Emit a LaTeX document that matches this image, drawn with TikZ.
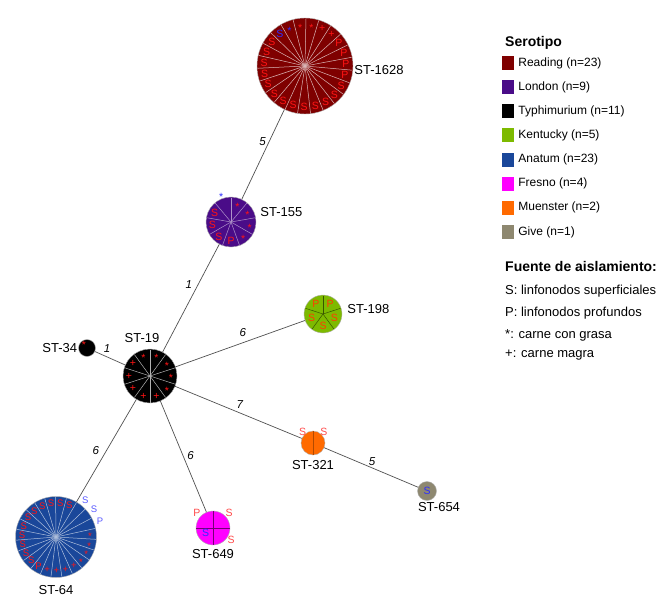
\documentclass[tikz,border=0pt]{standalone}
\usepackage{fontspec}
\setmainfont{Liberation Sans}
\usepackage{tikz}
\usetikzlibrary{positioning}

\definecolor{reading}{HTML}{7F0000}
\definecolor{london}{HTML}{4A0C88}
\definecolor{typhi}{HTML}{000000}
\definecolor{kentucky}{HTML}{7DBA00}
\definecolor{anatum}{HTML}{1A479A}
\definecolor{fresno}{HTML}{FF00FF}
\definecolor{muenster}{HTML}{FF6A00}
\definecolor{give}{HTML}{8E8870}
\definecolor{lblred}{HTML}{FF1414}
\definecolor{lblorange}{HTML}{FF3C00}
\definecolor{lblpink}{HTML}{FF4A4A}
\definecolor{lblblue}{HTML}{2E2EFF}
\definecolor{lblblueb}{HTML}{5A5AFF}
\definecolor{linkgray}{HTML}{505050}

\newcommand{\sx}{\smash{\raisebox{-.22em}{*}}\vphantom{S}}
\newcommand{\pielabels}[5]{% node, first angle, step, radius, text/colour list
  \foreach \t/\c [count=\k from 0] in {#5}
    \node[mk, text=\c] at ([shift={({#2+(#3)*\k}:#4)}]#1.center) {\t};}

\begin{document}
\begin{tikzpicture}[x=1pt, y=1pt,
    st/.style={circle, draw=black!30, line width=0.4pt, inner sep=0pt, minimum size=#1},
    stlabel/.style={inner sep=0pt, font=\fontsize{13}{13}\selectfont},
    elab/.style={inner sep=1pt, font=\fontsize{11.5}{12}\selectfont\itshape},
    link/.style={draw=linkgray, line width=0.7pt},
    sep/.style={draw=#1, line width=0.5pt},
    mk/.style={inner sep=0pt, font=\fontsize{10.5}{10.5}\selectfont},
    swatch/.style={minimum width=12pt, minimum height=14pt, inner sep=0pt},
    legtext/.style={inner sep=0pt, font=\fontsize{12}{12}\selectfont, text height=8.6pt, text depth=2.5pt},
    legtitle/.style={inner sep=0pt, anchor=base west, font=\fontsize{14}{14}\selectfont\bfseries},
    srctext/.style={inner sep=0pt, anchor=base west, font=\fontsize{13}{13}\selectfont}]
  \useasboundingbox (0,0) rectangle (671,-599);

  % sequence types
  \node[st=96pt, fill=reading] (c1628) at (305,-66) {};
  \node[st=50pt, fill=london] (c155) at (231,-222) {};
  \node[st=54pt, fill=typhi] (c19) at (150,-376) {};
  \node[st=17pt, fill=typhi] (c34) at (87,-348) {};
  \node[st=38pt, fill=kentucky] (c198) at (323,-314) {};
  \node[st=24pt, fill=muenster] (c321) at (313,-443) {};
  \node[st=19pt, fill=give] (c654) at (427,-491) {};
  \node[st=81pt, fill=anatum] (c64) at (56,-537) {};
  \node[st=34pt, fill=fresno] (c649) at (213,-528) {};

  \node[stlabel, right=1pt of c1628, yshift=-4pt] (l1628) {ST-1628};
  \node[stlabel, right=4pt of c155, yshift=10pt] (l155) {ST-155};
  \node[stlabel, above=6pt of c19, xshift=-8pt] (l19) {ST-19};
  \node[stlabel, left=1pt of c34] (l34) {ST-34};
  \node[stlabel, right=5pt of c198, yshift=5pt] (l198) {ST-198};
  \node[stlabel, below=5pt of c321] (l321) {ST-321};
  \node[stlabel, below=2pt of c654, xshift=12pt] (l654) {ST-654};
  \node[stlabel, below=8pt of c64] (l64) {ST-64};
  \node[stlabel, below=4pt of c649] (l649) {ST-649};

  % links with allelic distances
  \path[link] (c1628) edge node[elab, pos=.36, left=2pt] {5} (c155);
  \path[link] (c155) edge node[elab, pos=.37, left=5pt] {1} (c19);
  \path[link] (c19) edge node[elab, pos=.6, above=3pt] {1} (c34);
  \path[link] (c19) edge node[elab, pos=.52, above=5pt] {6} (c198);
  \path[link] (c19) edge node[elab, pos=.51, above=3pt] {7} (c321);
  \path[link] (c321) edge node[elab, pos=.51, above=1pt] {5} (c654);
  \path[link] (c19) edge node[elab, pos=.5, left=6pt] {6} (c64);
  \path[link] (c19) edge node[elab, pos=.49, right=3pt] {6} (c649);

  % slices
  \foreach \k in {0,...,22}
    \draw[sep=white!72!reading] (c1628.center) -- ++({135.8-15.652*\k}:47.5);
  \foreach \k in {0,...,8}
    \draw[sep=white!55!london] (c155.center) -- ++({10+40*\k}:24.5);
  \foreach \k in {0,...,9}
    \draw[sep=black!30] (c19.center) -- ++({90-36*\k}:26.5);
  \foreach \k in {0,...,4}
    \draw[sep=black!55!kentucky] (c198.center) -- ++({90-72*\k}:18.5);
  \draw[sep=black!30!muenster, line width=0.8pt] (c321.north) -- (c321.south);
  \draw[sep=black!55!fresno] (c649.north) -- (c649.south);
  \draw[sep=black!55!fresno] (c649.west) -- (c649.east);
  \foreach \k in {0,...,22}
    \draw[sep=white!65!anatum] (c64.center) -- ++({59.3+15.652*\k}:40);

  % isolation source marks
  \pielabels{c1628}{128}{-15.652}{41}{S/lblblue, \sx/lblblue, \sx/lblred, \sx/lblred, +/lblred, +/lblred,
    P/lblred, P/lblred, P/lblred, P/lblred, S/lblred, S/lblred, S/lblred, S/lblred, S/lblred, S/lblred,
    S/lblred, S/lblred, S/lblred, S/lblred, S/lblred, S/lblred, S/lblred}
  \pielabels{c155}{150}{40}{19}{S/lblred, S/lblred, S/lblred, P/lblred, \sx/lblred, \sx/lblred, \sx/lblred, \sx/lblred}
  \node[mk, text=lblblue] at ([shift={(110:29)}]c155.center) {\sx};
  \pielabels{c19}{108}{-36}{21}{\sx/lblred, \sx/lblred, \sx/lblred, \sx/lblred, \sx/lblred,
    +/lblred, +/lblred, +/lblred, +/lblred, +/lblred}
  \node[mk, text=lblred] at ([shift={(-3,5)}]c34.center) {\sx};
  \pielabels{c198}{126}{-72}{12}{P/lblorange, P/lblorange, S/lblorange, S/lblorange, S/lblorange}
  \pielabels{c321}{132}{-87}{15.5}{S/lblpink, S/lblpink}
  \node[mk, text=lblblue] at (c654.center) {S};
  \pielabels{c649}{137}{-94}{22}{P/lblpink, S/lblpink}
  \node[mk, text=lblpink] at ([shift={(-34:22)}]c649.center) {S};
  \node[mk, text=lblblue] at ([shift={(-145:9)}]c649.center) {S};
  \begin{scope}[mk/.append style={font=\fontsize{9.5}{9.5}\selectfont}]
    \pielabels{c64}{67}{15.652}{34}{S/lblred, S/lblred, S/lblred, S/lblred, S/lblred, S/lblred, S/lblred,
      S/lblred, S/lblred, S/lblred, S/lblred, P/lblred, +/lblred, +/lblred, +/lblred, +/lblred,
      \sx/lblred, \sx/lblred, \sx/lblred, \sx/lblred}
    \pielabels{c64}{51.5}{-15.652}{47}{S/lblblueb, S/lblblueb, P/lblblueb}
  \end{scope}

  % legend
  \node[legtitle] (sero) at (505,-46.5) {Serotipo};
  \foreach \col/\txt [count=\k from 0] in {reading/Reading (n=23), london/London (n=9),
      typhi/Typhimurium (n=11), kentucky/Kentucky (n=5), anatum/Anatum (n=23),
      fresno/Fresno (n=4), muenster/Muenster (n=2), give/Give (n=1)}
  {
    \node[swatch, fill=\col] (sw\k) at (508,{-63-24.14*\k}) {};
    \node[legtext, right=4pt of sw\k] (lt\k) {\txt};
  }
  \node[legtitle] (fuente) at (505,-271.7) {Fuente de aislamiento:};
  \node[srctext] (src1) at (505,-294) {S: linfonodos superficiales};
  \node[srctext] (src2) at (505,-316) {P: linfonodos profundos};
  \node[srctext] (src3) at (505,-338) {*: carne con grasa};
  \node[srctext] (src4) at (505,-357) {+: carne magra};
\end{tikzpicture}
\end{document}
